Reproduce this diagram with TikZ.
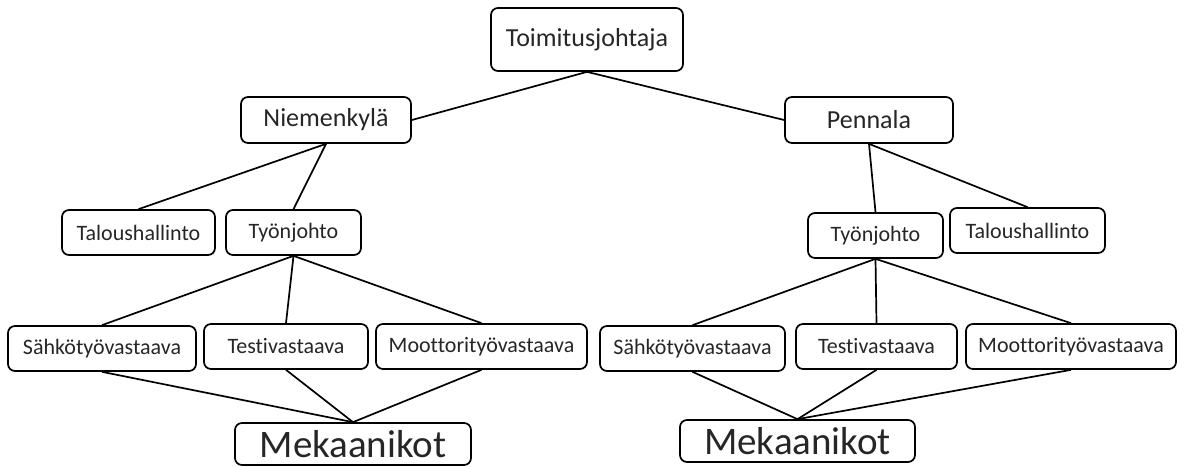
\documentclass[tikz,border=0pt]{standalone}
\usepackage{fontspec}
\setmainfont[Ligatures={NoCommon}]{Carlito}
\usetikzlibrary{positioning}
\tikzset{
    unitbox/.style = {rectangle, rounded corners=7pt, draw=black, line width=1.7pt, align=center, inner sep=0pt, minimum height=45pt, text=black!85, font=\fontsize{22}{26}\selectfont},
    headbox/.style = {unitbox, minimum height=46pt, font=\fontsize{26}{30}\selectfont},
    crewbox/.style = {unitbox, minimum height=42pt, font=\fontsize{39}{44}\selectfont},
    link/.style = {line width=1.7pt}
}
\begin{document}
\begin{tikzpicture}[x=1pt, y=-1pt]
\useasboundingbox (0,0) rectangle (1186,466);
% top
\node (ceo) [headbox, minimum width=192pt, minimum height=63pt] at (587,39.5) {Toimitusjohtaja};
\node (niemi) [headbox, minimum width=170pt] at (326,120) {Niemenkylä};
\node (penna) [headbox, minimum width=168pt] at (869,120) {Pennala};
% Niemenkylä
\node (ltalous) [unitbox, minimum width=153pt] at (138.5,232.5) {Taloushallinto};
\node (ltyon) [unitbox, minimum width=135pt] at (293.5,232.5) {Työnjohto};
\node (lsahko) [unitbox, minimum width=188pt] at (102,348.5) {Sähkötyövastaava};
\node (ltesti) [unitbox, minimum width=164pt] at (286,346.5) {Testivastaava};
\node (lmoot) [unitbox, minimum width=211pt] at (481.5,346.5) {Moottorityövastaava};
\node (lmek) [crewbox, minimum width=236pt] at (353,444) {Mekaanikot};
% Pennala
\node (rtyon) [unitbox, minimum width=135pt] at (875.5,235.5) {Työnjohto};
\node (rtalous) [unitbox, minimum width=155pt] at (1027.5,230.5) {Taloushallinto};
\node (rsahko) [unitbox, minimum width=185pt] at (692.5,348.5) {Sähkötyövastaava};
\node (rtesti) [unitbox, minimum width=161pt] at (876.5,346.5) {Testivastaava};
\node (rmoot) [unitbox, minimum width=210pt] at (1071,346.5) {Moottorityövastaava};
\node (rmek) [crewbox, minimum width=235pt] at (797.5,441) {Mekaanikot};

\draw [link] (ceo.south) -- (niemi.east);
\draw [link] (ceo.south) -- (penna.west);
\draw [link] (niemi.south) -- (ltalous.north);
\draw [link] (niemi.south) -- (ltyon.north);
\draw [link] (penna.south) -- (rtyon.north);
\draw [link] (penna.south) -- (rtalous.north);
\foreach \side in {l,r} {
    \foreach \role in {sahko,testi,moot} {
        \draw [link] (\side tyon.south) -- (\side\role.north);
        \draw [link] (\side\role.south) -- (\side mek.north);
    }
}
\end{tikzpicture}
\end{document}
